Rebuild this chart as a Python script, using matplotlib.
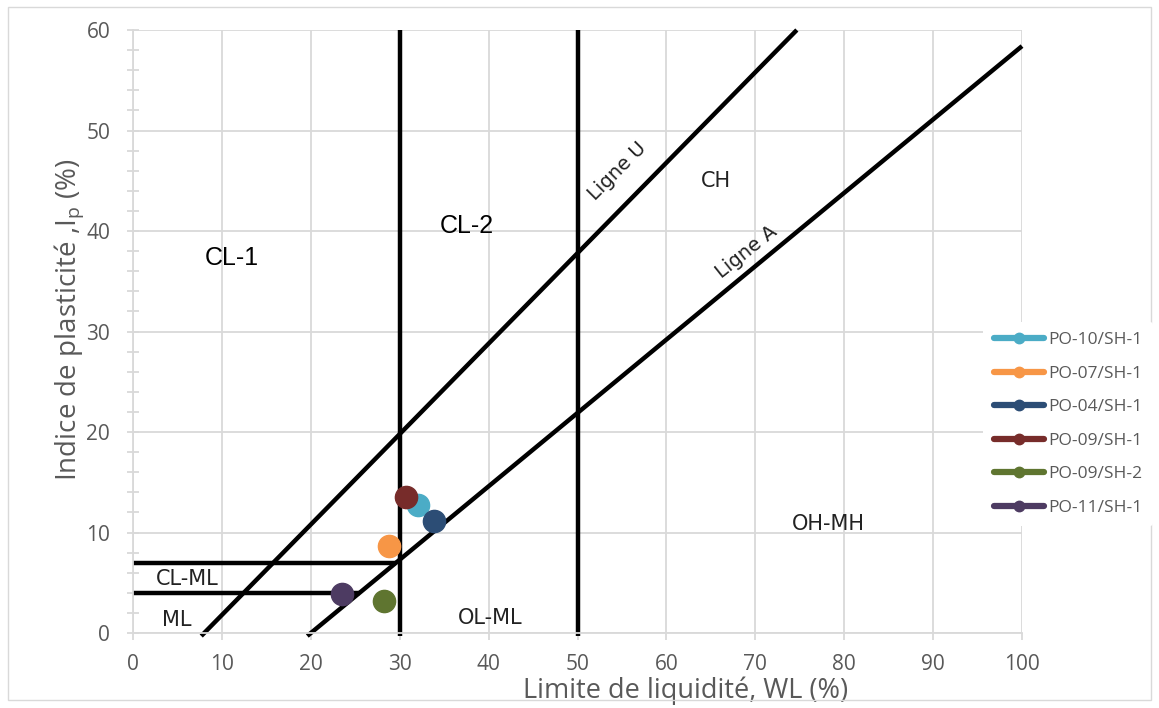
import matplotlib.pyplot as plt
from matplotlib.patches import Rectangle
from matplotlib.ticker import MultipleLocator

# samples: liquid limit WL (%), plasticity index Ip (%)
samples = ['PO-10/SH-1', 'PO-07/SH-1', 'PO-04/SH-1', 'PO-09/SH-1', 'PO-09/SH-2', 'PO-11/SH-1']
wl = [32.0, 28.8, 33.8, 30.7, 28.2, 23.5]
ip = [12.7, 8.7, 11.1, 13.5, 3.2, 3.9]
colors = ['#4BACC6', '#F79646', '#2C4D75', '#772C2A', '#5F7530', '#4D3B62']

# classification lines
u_x = [7.67, 74.67]          # Ligne U : Ip = 0.9 (WL - 8)
a_x = [19.6, 100.0]          # Ligne A : Ip = 0.73 (WL - 20)
vert_x = [30, 50]
h_lines = [(7, 29.6), (4, 25.5)]

grey = '#595959'
grid = '#D9D9D9'
dark = '#222222'

fig = plt.figure(figsize=(11.59, 7.08), dpi=100)
fig.patches.append(Rectangle((0.007, 0.011), 0.986, 0.979, transform=fig.transFigure,
                             fill=False, edgecolor=grid, lw=1))
ax = fig.add_axes([0.1148, 0.1059, 0.7670, 0.8517])
ax.set_xlim(0, 100)
ax.set_ylim(0, 60)

ax.xaxis.set_major_locator(MultipleLocator(10))
ax.yaxis.set_major_locator(MultipleLocator(10))
ax.yaxis.set_minor_locator(MultipleLocator(2))
ax.grid(True, which='major', color=grid, lw=1.3)
ax.set_axisbelow(True)
for s in ['top', 'right']:
    ax.spines[s].set_visible(False)
for s in ['left', 'bottom']:
    ax.spines[s].set_color(grid)
    ax.spines[s].set_linewidth(1.3)
ax.tick_params(axis='y', which='both', direction='inout', length=9, color=grid, width=1.3,
               labelsize=15, labelcolor=grey, pad=12)
ax.tick_params(axis='x', which='major', direction='out', length=5, color=grid, width=1.3,
               labelsize=15, labelcolor=grey, pad=10)
for lab in ax.get_xticklabels() + ax.get_yticklabels():
    lab.set_family('Open Sans')

lw = 3.2
f = lambda x, k, x0: k * (x - x0)
ax.plot(u_x, [f(x, 0.9, 8) for x in u_x], color='black', lw=lw, clip_on=False, solid_capstyle='butt')
ax.plot(a_x, [f(x, 0.73, 20) for x in a_x], color='black', lw=lw, clip_on=False, solid_capstyle='butt')
for x in vert_x:
    ax.plot([x, x], [-0.3, 60], color='black', lw=lw, clip_on=False, solid_capstyle='butt')
for y, xe in h_lines:
    ax.plot([0, xe], [y, y], color='black', lw=lw, solid_capstyle='butt')

for name, x, y, c in zip(samples, wl, ip, colors):
    ax.plot([x], [y], color=c, marker='o', ms=16, lw=5, label=name, ls='none', zorder=5)

font_c = 'DejaVu Sans'
ax.text(11.1, 37.3, 'CL-1', fontsize=18, family='Liberation Sans', ha='center', va='center')
ax.text(37.6, 40.5, 'CL-2', fontsize=18, family='Liberation Sans', ha='center', va='center')
ax.text(65.6, 45.0, 'CH', fontsize=15, family=font_c, color=dark, ha='center', va='center')
ax.text(78.2, 10.8, 'OH-MH', fontsize=15, family=font_c, color=dark, ha='center', va='center')
ax.text(40.2, 1.5, 'OL-ML', fontsize=15, family=font_c, color=dark, ha='center', va='center')
ax.text(6.1, 5.4, 'CL-ML', fontsize=15, family=font_c, color=dark, ha='center', va='center')
ax.text(4.9, 1.3, 'ML', fontsize=15, family=font_c, color=dark, ha='center', va='center')
ax.text(54.5, 45.9, 'Ligne U', fontsize=14, family=font_c, color=dark, ha='center', va='center',
        rotation=45, rotation_mode='anchor')
ax.text(69.0, 37.9, 'Ligne A', fontsize=14, family=font_c, color=dark, ha='center', va='center',
        rotation=38.5, rotation_mode='anchor')

xl = ax.set_xlabel('Limite de liquidité, WL (%)', fontsize=19.5, color=grey, family='Open Sans')
xl.set_va('center')
ax.xaxis.set_label_coords(0.622, -0.0955)
ax.set_ylabel('Indice de plasticité ,I$_\\mathregular{p}$ (%)', fontsize=20, color=grey,
              family='Open Sans')
ax.yaxis.set_label_coords(-0.053, 0.519)

handles = [plt.Line2D([], [], color=c, marker='o', ms=7.5, lw=4.5, solid_capstyle='round') for c in colors]
leg = fig.legend(handles, samples, loc='center left', bbox_to_anchor=(0.841, 0.401),
                 frameon=True, facecolor='white', edgecolor='none', framealpha=1,
                 fontsize=12.5, labelcolor=grey, handlelength=2.9, handletextpad=0.25,
                 labelspacing=1.0, borderpad=0.6)
for t in leg.get_texts():
    t.set_family('Open Sans')

fig.savefig('out.png', dpi=100)
